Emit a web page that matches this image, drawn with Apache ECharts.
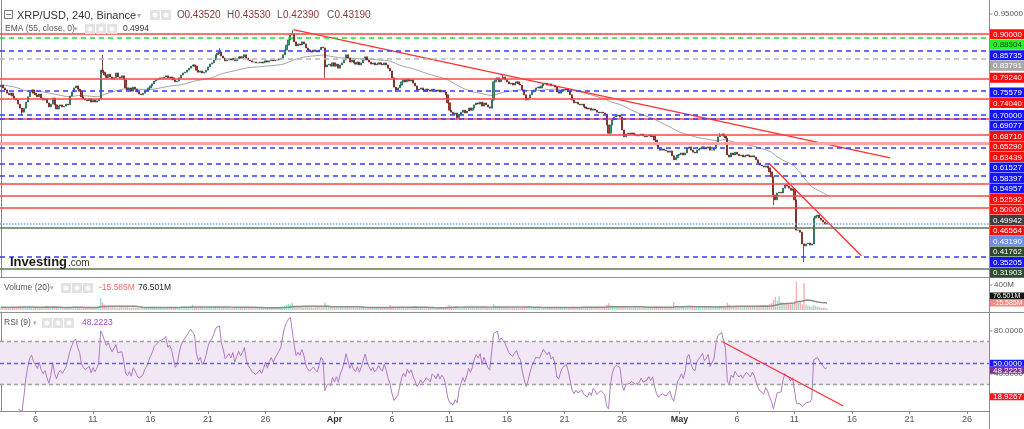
<!DOCTYPE html>
<html>
<head>
<meta charset="utf-8">
<title>XRP/USD, 240, Binance</title>
<script src="https://cdn.jsdelivr.net/npm/echarts@6.0.0/dist/echarts.min.js"></script>
<style>
  html, body { margin: 0; padding: 0; background: #fff; }
  #chart { width: 1024px; height: 429px; }
</style>
</head>
<body>
<div id="chart"></div>
<script>
// 4h candles from 3 Mar 2022, axis runs on to the end of May
const startDay = Date.UTC(2022, 2, 3);
const slotCount = 516;
const firstOpen = 0.770;

// closes (6 per day)
const closes = [
  0.774,0.767,0.762,0.754,0.750,0.754, 0.747,0.740,0.737,0.727,0.717,0.707,
  0.717,0.732,0.745,0.757,0.762,0.754, 0.750,0.745,0.752,0.742,0.737,0.740,
  0.730,0.720,0.727,0.742,0.725,0.715, 0.722,0.725,0.720,0.722,0.727,0.725,
  0.747,0.757,0.767,0.772,0.764,0.759, 0.745,0.740,0.737,0.735,0.740,0.732,
  0.737,0.732,0.735,0.740,0.811,0.806, 0.799,0.792,0.801,0.794,0.789,0.792,
  0.804,0.794,0.792,0.797,0.787,0.767, 0.762,0.767,0.759,0.769,0.764,0.757,
  0.752,0.750,0.754,0.759,0.762,0.767, 0.772,0.777,0.784,0.787,0.789,0.792,
  0.792,0.794,0.797,0.792,0.794,0.792, 0.787,0.782,0.784,0.792,0.799,0.804,
  0.806,0.811,0.816,0.821,0.824,0.821, 0.811,0.806,0.809,0.804,0.806,0.811,
  0.819,0.826,0.829,0.836,0.849,0.853, 0.856,0.846,0.841,0.834,0.836,0.839,
  0.836,0.841,0.834,0.839,0.844,0.841, 0.844,0.849,0.841,0.836,0.834,0.831,
  0.831,0.829,0.829,0.831,0.829,0.831, 0.834,0.831,0.834,0.836,0.834,0.836,
  0.836,0.839,0.841,0.849,0.861,0.873, 0.886,0.898,0.900,0.881,0.871,0.876,
  0.873,0.881,0.876,0.866,0.861,0.858, 0.856,0.861,0.858,0.856,0.861,0.868,
  0.866,0.819,0.824,0.826,0.821,0.829, 0.821,0.826,0.816,0.824,0.829,0.836,
  0.849,0.841,0.831,0.836,0.829,0.826, 0.831,0.824,0.829,0.836,0.844,0.836,
  0.831,0.826,0.829,0.824,0.826,0.829, 0.826,0.824,0.829,0.824,0.816,0.809,
  0.792,0.769,0.762,0.767,0.774,0.782, 0.787,0.782,0.789,0.784,0.787,0.779,
  0.772,0.762,0.764,0.767,0.762,0.759, 0.764,0.762,0.759,0.764,0.762,0.759,
  0.762,0.757,0.759,0.757,0.750,0.730, 0.712,0.707,0.702,0.705,0.693,0.702,
  0.707,0.712,0.705,0.710,0.717,0.712, 0.717,0.725,0.730,0.727,0.732,0.722,
  0.730,0.725,0.720,0.717,0.737,0.782, 0.787,0.792,0.782,0.789,0.794,0.787,
  0.782,0.777,0.779,0.774,0.779,0.782, 0.777,0.774,0.762,0.750,0.737,0.742,
  0.750,0.757,0.762,0.767,0.769,0.767, 0.772,0.777,0.779,0.774,0.777,0.772,
  0.774,0.769,0.757,0.754,0.759,0.762, 0.762,0.764,0.759,0.750,0.737,0.730,
  0.732,0.727,0.725,0.727,0.720,0.717, 0.715,0.717,0.712,0.715,0.712,0.707,
  0.705,0.707,0.705,0.702,0.675,0.655, 0.675,0.688,0.695,0.698,0.700,0.695,
  0.663,0.646,0.653,0.655,0.653,0.655, 0.653,0.650,0.648,0.650,0.653,0.648,
  0.646,0.648,0.650,0.646,0.648,0.638, 0.626,0.618,0.613,0.616,0.613,0.611,
  0.608,0.611,0.599,0.589,0.594,0.601, 0.603,0.606,0.601,0.606,0.618,0.621,
  0.613,0.608,0.606,0.613,0.616,0.618, 0.621,0.616,0.618,0.621,0.613,0.613,
  0.618,0.633,0.646,0.650,0.653,0.648, 0.643,0.601,0.596,0.606,0.601,0.608,
  0.603,0.599,0.601,0.596,0.599,0.601, 0.599,0.596,0.599,0.596,0.589,0.581,
  0.576,0.574,0.571,0.574,0.569,0.559, 0.547,0.502,0.490,0.507,0.509,0.507,
  0.519,0.527,0.524,0.519,0.514,0.517, 0.490,0.415,0.415,0.410,0.381,0.376,
  0.381,0.383,0.378,0.381,0.445,0.450, 0.452,0.445,0.440,0.435,0.430,0.4319
];

// visible wicks only (candle index -> price)
const wickHigh = { 53: 0.849, 114: 0.866, 152: 0.910, 262: 0.799, 375: 0.655 };
const wickLow = { 11: 0.700, 169: 0.792, 206: 0.757, 238: 0.688, 403: 0.477, 419: 0.336 };

// volume in millions
const volumes = [
  45,38,52,40,35,48, 50,42,38,55,60,47,
  52,48,44,58,40,36, 33,41,45,38,50,42,
  55,47,40,62,44,39, 30,28,35,32,40,36,
  42,50,58,45,38,41, 47,40,36,44,52,48,
  40,45,38,50,190,120, 85,60,55,48,44,50,
  42,38,45,52,40,58, 46,40,38,44,36,35,
  33,30,38,35,32,40, 44,48,52,45,40,38,
  36,42,40,38,45,41, 38,44,50,47,52,48,
  55,50,46,44,85,42, 40,38,45,42,36,34,
  45,52,48,55,60,58, 62,50,45,48,44,40,
  38,42,36,40,45,38, 35,33,38,36,40,42,
  36,34,30,32,35,33, 30,32,38,35,40,45,
  42,48,52,60,70,85, 95,90,117,72,62,55,
  50,48,45,52,46,44, 42,40,45,48,52,55,
  60,117,80,58,50,45, 42,40,38,45,44,40,
  50,46,42,40,38,36, 35,38,40,37,42,36,
  34,32,36,35,38,40, 38,36,42,45,50,80,
  62,58,50,46,44,42, 45,42,40,38,44,41,
  38,36,40,35,33,36, 32,30,34,33,36,35,
  38,40,36,42,50,58, 80,62,55,60,65,50,
  48,45,42,40,44,40, 38,36,42,40,45,50,
  48,44,42,46,55,96, 70,58,52,48,50,45,
  42,40,38,44,40,36, 35,38,42,48,55,61,
  52,46,42,40,38,36, 34,32,36,38,35,33,
  36,40,44,42,38,40, 42,45,40,48,52,55,
  50,46,44,42,48,45, 40,38,36,42,44,46,
  48,45,50,55,80,107, 75,60,55,50,46,44,
  55,50,46,42,40,38, 36,34,38,40,36,35,
  38,40,42,45,48,52, 60,55,50,48,46,44,
  48,52,50,123,60,55, 50,48,46,52,55,50,
  55,48,45,44,42,40, 42,45,48,46,44,50,
  52,58,65,70,62,55, 70,115,85,62,58,55,
  52,50,48,46,50,52, 55,58,54,60,65,70,
  72,70,75,68,80,95, 110,160,213,150,224,130,
  120,110,100,95,90,100, 140,453,120,141,90,432,
  90,70,60,55,80,65, 50,45,40,38,35,30
];

const tickDates = ['2022-03-06','2022-03-11','2022-03-16','2022-03-21','2022-03-26','2022-04-01',
  '2022-04-06','2022-04-11','2022-04-16','2022-04-21','2022-04-26','2022-05-01',
  '2022-05-06','2022-05-11','2022-05-16','2022-05-21','2022-05-26'];
const tickLabels = ['6','11','16','21','26','Apr','6','11','16','21','26','May','6','11','16','21','26'];

// drawn levels
const redLevels = [0.90, 0.7924, 0.7404, 0.6871, 0.6529, 0.52592, 0.50, 0.46564];
const pinkLevels = [0.63439];
const blueLevels = [0.85735, 0.75579, 0.70, 0.69077, 0.61527, 0.58397, 0.54957, 0.35205];
const greenLevels = [0.88504];
const grayLevels = [0.83791];
const oliveLevels = [0.41762, 0.31903];
const lastPrice = 0.4319;
const emaLast = 0.49942;

// trendlines: [candle index, value]
const trendA = [[152.5, 0.9116], [464, 0.5936]];
const trendB = [[400.7, 0.5804], [448.9, 0.3517]];
const rsiTrend = [[376.4, 70.0], [439.5, 10.2]];

const rsiBands = [30, 70];
const rsiMid = 50;
const rsiLast = 48.2223;
const rsiTrendTag = 18.9267;
const volTags = [76.501, -15.585];

// ---------------------------------------------------------------
const categories = [];
for (let i = 0; i < slotCount; i++) {
  const d = new Date(startDay + i * 4 * 3600 * 1000);
  categories.push(d.toISOString().slice(0, 16).replace('T', ' '));
}
const labelMap = {};
tickDates.forEach((d, k) => { labelMap[d + ' 00:00'] = tickLabels[k]; });

const opens = closes.map((c, i) => i === 0 ? firstOpen : closes[i - 1]);
const candles = closes.map((c, i) => {
  const o = opens[i];
  const hi = wickHigh[i] !== undefined ? wickHigh[i] : Math.max(o, c);
  const lo = wickLow[i] !== undefined ? wickLow[i] : Math.min(o, c);
  return [o, c, lo, hi];
});

function calcEma(src, n) {
  const k = 2 / (n + 1);
  let e = src[0];
  return src.map(v => +(e = v * k + e * (1 - k)).toFixed(5));
}

function calcRsi(src, n) {
  const out = [null];
  let up = 0, dn = 0;
  for (let i = 1; i < src.length; i++) {
    const ch = src[i] - src[i - 1];
    const u = Math.max(ch, 0), d = Math.max(-ch, 0);
    if (i <= n) {
      up += u / n; dn += d / n;
      if (i < n) { out.push(null); continue; }
    } else {
      up = (up * (n - 1) + u) / n;
      dn = (dn * (n - 1) + d) / n;
    }
    out.push(dn === 0 ? 100 : +(100 - 100 / (1 + up / dn)).toFixed(3));
  }
  return out;
}

function calcMa(src, n) {
  return src.map((v, i) => {
    const from = Math.max(0, i - n + 1);
    let s = 0;
    for (let j = from; j <= i; j++) s += src[j];
    return +(s / (i - from + 1)).toFixed(2);
  });
}

const ema = calcEma(closes, 55);
const rsi = calcRsi(closes, 9);
const volMa = calcMa(volumes, 20);

const volBars = volumes.map((v, i) => ({
  value: v,
  itemStyle: { color: closes[i] >= opens[i] ? 'rgba(60,200,150,0.55)' : 'rgba(245,110,110,0.55)' }
}));

// one empty series per line style, each carrying its markLines
function levelSeries(xi, yi, values, color, width, type) {
  return {
    type: 'line', xAxisIndex: xi, yAxisIndex: yi, data: [], z: 1,
    color: color,
    markLine: {
      silent: true, symbol: ['none', 'none'], label: { show: false },
      lineStyle: { color: color, width: width, type: type },
      emphasis: { disabled: true },
      data: values.map(v => ({ yAxis: v }))
    }
  };
}

const FONT = '"Liberation Sans", Arial, sans-serif';
const hiddenCat = (grid) => ({
  type: 'category', gridIndex: grid, data: categories, boundaryGap: true,
  axisLine: { show: false }, axisTick: { show: false }, axisLabel: { show: false }, splitLine: { show: false }
});
const hiddenVal = (grid) => ({
  type: 'value', gridIndex: grid, min: -0.5, max: slotCount - 0.5, show: false
});
const rightAxis = (grid, min, max) => ({
  type: 'value', gridIndex: grid, position: 'right', min: min, max: max, scale: true,
  axisLine: { show: true, lineStyle: { color: '#8a8a8a' } },
  axisTick: { show: false }, axisLabel: { show: false }, splitLine: { show: false }
});

const chart = echarts.init(document.getElementById('chart'));
chart.setOption({
  animation: false,
  backgroundColor: '#fff',
  grid: [
    { left: 0, right: 35, top: 0, height: 277 },
    { left: 0, right: 35, top: 277, height: 35 },
    { left: 0, right: 35, top: 312, height: 99 }
  ],
  xAxis: [
    hiddenCat(0),
    hiddenCat(1),
    {
      type: 'category', gridIndex: 2, data: categories, boundaryGap: true,
      axisLine: { show: true, lineStyle: { color: '#8a8a8a' } },
      axisTick: { show: true, alignWithLabel: true, length: 3, lineStyle: { color: '#8a8a8a' },
        interval: (i, v) => v in labelMap },
      axisLabel: {
        interval: (i, v) => v in labelMap,
        margin: 4, color: '#555', fontSize: 9, fontFamily: '"Liberation Sans Narrow", ' + FONT,
        formatter: v => {
          const t = labelMap[v] || '';
          return /^[A-Z]/.test(t) ? '{m|' + t + '}' : t;
        },
        rich: { m: { fontWeight: 'bold', color: '#333', fontSize: 9, fontFamily: '"Liberation Sans Narrow", ' + FONT } }
      },
      splitLine: { show: false }
    },
    hiddenVal(0),
    hiddenVal(2)
  ],
  yAxis: [
    rightAxis(0, 0.29901, 0.98465),
    rightAxis(1, -32, 528),
    rightAxis(2, 5.581, 97.674)
  ],
  series: [
    levelSeries(0, 0, pinkLevels, '#f7a6a6', 3, 'solid'),
    levelSeries(0, 0, redLevels, '#ff4444', 1.6, 'solid'),
    levelSeries(0, 0, blueLevels, '#3a3aff', 1.5, [5, 4]),
    levelSeries(0, 0, greenLevels, '#22e022', 1.5, [5, 4]),
    levelSeries(0, 0, grayLevels, '#b4b4b4', 1.5, [5, 4]),
    levelSeries(0, 0, oliveLevels, '#607558', 1.5, 'solid'),
    levelSeries(0, 0, [lastPrice], '#7f9ff0', 1.5, 'dotted'),
    {
      type: 'candlestick', xAxisIndex: 0, yAxisIndex: 0, data: candles, barWidth: 1.7, z: 3,
      itemStyle: { color: '#2fa283', color0: '#bb3a2c', borderColor: '#1f5f4d', borderColor0: '#6a1d14', borderWidth: 0.8 }
    },
    {
      type: 'line', xAxisIndex: 0, yAxisIndex: 0, data: ema, showSymbol: false, z: 2,
      lineStyle: { color: '#a3a3a3', width: 1 }
    },
    {
      type: 'line', xAxisIndex: 3, yAxisIndex: 0, data: trendA, showSymbol: false, z: 4,
      lineStyle: { color: '#ff3030', width: 1.3 }
    },
    {
      type: 'line', xAxisIndex: 3, yAxisIndex: 0, data: trendB, showSymbol: false, z: 4,
      lineStyle: { color: '#ff3030', width: 1.3 }
    },
    {
      type: 'bar', xAxisIndex: 1, yAxisIndex: 1, data: volBars, barWidth: 1.4
    },
    {
      type: 'line', xAxisIndex: 1, yAxisIndex: 1, data: volMa, showSymbol: false,
      lineStyle: { color: '#8c8c8c', width: 1.5 }
    },
    {
      type: 'line', xAxisIndex: 2, yAxisIndex: 2, data: [], silent: true,
      markArea: { silent: true, itemStyle: { color: '#f2e8f5' },
        data: [[{ yAxis: rsiBands[0] }, { yAxis: rsiBands[1] }]] }
    },
    levelSeries(2, 2, rsiBands, '#a0a0a0', 1.4, [4, 3]),
    levelSeries(2, 2, [rsiMid], '#5c5cff', 1.4, [4, 3]),
    {
      type: 'line', xAxisIndex: 2, yAxisIndex: 2, data: rsi, showSymbol: false, z: 3,
      lineStyle: { color: '#b278c6', width: 1 }
    },
    {
      type: 'line', xAxisIndex: 4, yAxisIndex: 2, data: rsiTrend, showSymbol: false, z: 4,
      lineStyle: { color: '#ff3030', width: 1.3 }
    }
  ]
});

// ---------------------------------------------------------------
// overlay: price-scale tags, header texts, separators
function txt(x, y, text, fill, font, align) {
  return { type: 'text', x: x, y: y, z: 100, silent: true,
    style: { text: text, fill: fill, font: font, textAlign: align || 'left', textVerticalAlign: 'middle', align: align || 'left', verticalAlign: 'middle' } };
}
function box(x, y, w, h, fill) {
  return { type: 'rect', z: 99, silent: true, shape: { x: x, y: y, width: w, height: h }, style: { fill: fill } };
}
function hline(x1, x2, y, color) {
  return { type: 'line', z: 98, silent: true, shape: { x1: x1, y1: y, x2: x2, y2: y }, style: { stroke: color, lineWidth: 1 } };
}
function stack(items, gap, maxY) {
  items.sort((a, b) => a.y - b.y);
  for (let i = 1; i < items.length; i++) {
    if (items[i].y < items[i - 1].y + gap) items[i].y = items[i - 1].y + gap;
  }
  const n = items.length;
  if (n && items[n - 1].y > maxY) {
    items[n - 1].y = maxY;
    for (let i = n - 2; i >= 0; i--) {
      if (items[i].y > items[i + 1].y - gap) items[i].y = items[i + 1].y - gap;
    }
  }
  return items;
}

const tagFont = '8px ' + FONT;
const smallTagFont = '7px ' + FONT;
const g = [];
const AX = 989.5;

// plain scale labels
function plain(axis, v, text) {
  const y = chart.convertToPixel({ yAxisIndex: axis }, v);
  g.push({ type: 'line', z: 98, silent: true, shape: { x1: AX, y1: y, x2: AX + 3, y2: y }, style: { stroke: '#8a8a8a' } });
  g.push(txt(994, y, text, '#555', tagFont));
}
plain(0, 0.95, '0.95000');
plain(1, 400, '400M');
plain(2, 80, '80.0000');
plain(2, 40, '40.0000');

function tags(axis, list, gap, h, maxY, font) {
  const items = list.map(t => ({ y: chart.convertToPixel({ yAxisIndex: axis }, t.v), t: t }));
  stack(items, gap, maxY).forEach(it => {
    g.push(box(990, it.y - h / 2, 34, h, it.t.bg));
    g.push(txt(993, it.y + 0.5, it.t.text, it.t.fg || '#fff', font));
  });
}
const mainTags = [].concat(
  redLevels.concat(pinkLevels).map(v => ({ v: v, bg: '#ff0d0d' })),
  blueLevels.map(v => ({ v: v, bg: '#1414ff' })),
  greenLevels.map(v => ({ v: v, bg: '#1ff51f', fg: '#1a3a1a' })),
  grayLevels.map(v => ({ v: v, bg: '#a8a8a8' })),
  oliveLevels.map(v => ({ v: v, bg: '#2f4a2c' })),
  [{ v: emaLast, bg: '#3f3f3f' }, { v: lastPrice, bg: '#6f8fe3' }]
).map(t => Object.assign(t, { text: t.v.toFixed(5) }));
tags(0, mainTags, 10.5, 10, 274, tagFont);

tags(1, [
  { v: volTags[0], bg: '#161616', text: volTags[0].toFixed(3) + 'M' },
  { v: volTags[1], bg: '#f58a80', text: volTags[1].toFixed(3) + 'M' }
], 7, 7, 303, smallTagFont);

tags(2, [
  { v: rsiMid, bg: '#1616ff', text: rsiMid.toFixed(4) },
  { v: rsiLast, bg: '#7d2f97', text: rsiLast.toFixed(4) },
  { v: rsiTrendTag, bg: '#ff1616', text: rsiTrendTag.toFixed(4) }
], 7, 7, 405, tagFont);

// pane separators and price-scale line
g.push(hline(0, 1024, 277.5, '#8e8e8e'));
g.push(hline(0, 1024, 312.5, '#8e8e8e'));
g.push({ type: 'line', z: 98, silent: true, shape: { x1: AX, y1: 0, x2: AX, y2: 429 }, style: { stroke: '#8a8a8a', lineWidth: 1 } });

// header line 1
g.push({ type: 'rect', z: 100, silent: true, shape: { x: 4.5, y: 10.5, width: 8, height: 8 }, style: { fill: '#fff', stroke: '#777', lineWidth: 1 } });
g.push({ type: 'line', z: 101, silent: true, shape: { x1: 6, y1: 14.5, x2: 11, y2: 14.5 }, style: { stroke: '#777', lineWidth: 1 } });
g.push(txt(17, 15.5, 'XRP/USD, 240, Binance', '#333', '11px ' + FONT));
g.push(txt(137, 15.5, '▾', '#aaa', '8px "DejaVu Sans"'));
function icons(x, y, n) {
  for (let k = 0; k < n; k++) {
    g.push(box(x + k * 11, y, 10, 10, '#e2e2e2'));
    g.push({ type: 'circle', z: 100, silent: true, shape: { cx: x + k * 11 + 5, cy: y + 5, r: 2.5 }, style: { fill: '#fafafa' } });
  }
}
icons(150, 10, 2);
const ohlc = [['O', '0.43520', 177], ['H', '0.43530', 227], ['L', '0.42390', 277], ['C', '0.43190', 327]];
ohlc.forEach(p => {
  g.push(txt(p[2], 15.5, p[0], '#555', '10px ' + FONT));
  g.push(txt(p[2] + (p[0] === 'L' ? 6 : 7.5), 15.5, p[1], '#8e3636', '10px ' + FONT));
});

// header line 2
g.push(txt(5, 29, 'EMA (55, close, 0)', '#555', '8.5px ' + FONT));
g.push(txt(74, 29, '▾', '#aaa', '7px "DejaVu Sans"'));
icons(85, 24, 3);
g.push(txt(123, 29, '0.4994', '#333', '8.5px ' + FONT));

// volume header
g.push(txt(4, 288, 'Volume (20)', '#555', '8.5px ' + FONT));
g.push(txt(50, 288, '▾', '#aaa', '7px "DejaVu Sans"'));
icons(61, 283, 3);
g.push(txt(99, 288, '-15.585M', '#f06a6a', '8.5px ' + FONT));
g.push(txt(138, 288, '76.501M', '#222', '8.5px ' + FONT));

// RSI header
g.push(txt(4, 323, 'RSI (9)', '#555', '8.5px ' + FONT));
g.push(txt(33, 323, '▾', '#aaa', '7px "DejaVu Sans"'));
icons(42, 318, 3);
g.push(txt(82, 323, '48.2223', '#9b4fb8', '8.5px ' + FONT));

// watermark
g.push(txt(10, 262, 'Investing', '#1a1a1a', 'bold 13px ' + FONT));
g.push(txt(68, 263, '.com', '#333', '10px ' + FONT));

chart.setOption({ graphic: { elements: g } });
</script>
</body>
</html>
